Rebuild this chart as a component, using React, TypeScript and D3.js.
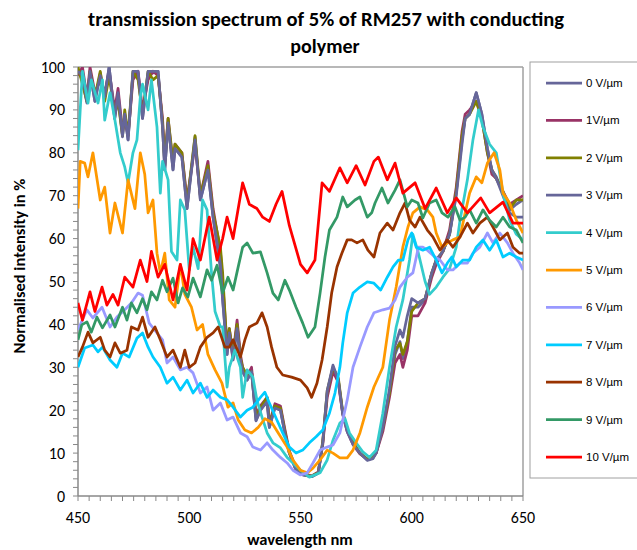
import React from "react";
import * as d3 from "d3";

const seriesNames = ["0 V/µm", "1V/µm", "2 V/µm", "3 V/µm", "4 V/µm", "5 V/µm", "6 V/µm", "7 V/µm", "8 V/µm", "9 V/µm", "10 V/µm"];
const seriesColors = ["#666699", "#993366", "#808000", "#666699", "#33CCCC", "#FF9900", "#9999FF", "#00CCFF", "#993300", "#339966", "#FF0000"];

const xTicks = [450, 500, 550, 600, 650];
const yTicks = [0, 10, 20, 30, 40, 50, 60, 70, 80, 90, 100];

// shared wavelengths for the 0-3 V/µm curves
const wlDark = [450,452,454,455.4,457.6,460,462,464,466.5,468,470,471,472.5,474.7,477,479,481.5,483.7,486,488,489,490.5,492.7,493.6,496.7,499,502.6,505,508.4,510.7,514,515,517,518,519.7,521.5,523,524,526,528,530,532,535,536,538.5,541,543,545,548,551,555,558,560,562,564.6,567,569,571,573.6,576.7,580,582.6,584,587,590,592.5,594.7,596,598,600,602.8,606,609,611,614,617,620,622.6,624,626,629,631.5,634,636,638,641,644,647,650];
const v0 = [99,97,91.6,98.6,92,98.6,93,100,88,93,83.7,89,83,98.6,98.6,88,98.6,98.6,99,86,76,87,76,81,79,67,83.7,69,76,65,53,45.7,33,38,31.7,40,31.7,29,27,29,17.7,20,22.4,16,20.7,20,14.7,10,6,5,4.5,5.4,12.4,24,30,27,19.3,15.4,12.4,10,8.4,8.9,10,16,24,33,36,32,36,44,44,45.7,52,55,57,61,70.6,83,88,89,94,89,81,76,74.4,70.6,66.7,68,69];
const v1 = [98,100,93,100,94,97,94,99,90,95,85,88,84,97,99,90,97,99,98,88,78,88,77,82,80,69,82,70,78,67,57,50,35,39,33,41,33,30,28,30,19,21,23,17,21.5,21,15.5,10.5,6.5,5.2,4.7,5.6,12,23,29,26.5,19,15,12,9.8,8.6,9.2,10,15,23,31,33,30,34,42,42,45,51,54,57,62,72,85,89,90,92,88,80,75,74,71,68,69,70];
const v2 = [100,96,92,99,93,99,92,98,89,92,84,90,84,99,97,89,99,97,98,87,77,88,78,82,80,68,84,70,77,66,58,52,34,39,33,40,32,30,28,29,18.5,20.5,23,16.5,21,20.5,15,10,6.2,5,4.6,5.5,12.8,24.5,30,27.5,19.5,15.5,12.6,10,8.6,9,10.3,16,24,34,35.6,33,36,43,45,46,52,55,57,61,71,84,88,89,92,88,80,76,74,71,67,69,69];
const v3 = [99,98,92,99,92,98,93,100,88,94,84,89,83,99,99,88,99,99,99,86,76,87,76,81,79,67,83,69,76,65,54,46,33,38,32,39,31.5,29,27,29,17.5,20,22,16,20.5,20,14.5,10,6,4.9,4.5,5.3,12.5,24.5,30.5,27,19,15,12,10,8.3,8.7,10,16,25,35,38.7,37,42,46,45,46,52,55,57,61,70,82,88,89,94,89,81,76,74,70,66,65,65];

const wl4 = [450,451,452,454.5,456,459,461,462,464.4,466.6,469,471,472.5,474.7,476.5,478,479,481.5,483,485.5,487,488,490.5,492,494.5,496,498,500,501.7,504,506,508,510,511.6,514,515,517,518,520.5,523,524,526,528.6,530.4,532.7,535,537.6,541,544,546.6,550,554,558.8,562,564.6,567.7,570,572,575,578,581,584,587,590,593,596,599,600.5,602.8,606,608,611,614,617,620,621.7,625,627.5,630,632,635,638,641,644,647,650];
const v4 = [80.6,90,99,91.6,97,91.6,97,87.6,94,87.6,80,76.7,73,80,83,93,96,90,97,86,70.6,78,73.7,57,55,69,66.7,52.7,58,53,69,66.7,52,43,39.4,39.4,25.4,30,34,30,23,29.4,27.7,22.4,18.4,14.7,12.4,11.2,9,7.7,6,4.4,5.4,8.4,13,17,18,14.7,12.4,10.3,9,10.7,19.3,30,39.4,45.7,55,61,57,50,47,48.7,51,53,58,64.3,73.7,83,90,86,82,80,70.6,64.3,61,59.7];

const wl5 = [450,451,453,454.5,456.7,460,462,464.4,466.6,470,472.5,475.6,478,480,481.5,483.7,485.5,487,489,491,493.6,496,498,501,503.5,506,508.4,511.6,514.7,517.4,519.7,522,525,528,531,534,537,540,544,546.6,550,553,555.6,558.8,562,564.6,567.7,571,573.6,576.7,580,583,587,590,593,596,598.3,600.5,603.7,607,609.5,611,613.6,616,618.5,621.7,624,626,629,631.5,634,637,639.6,641,644,647,650];
const v5 = [67,78,77.6,74.4,80,69,72,61.3,68.3,61.3,73.7,67,80,75,66,69,56.6,52,56.6,45.7,44,54,47,44,38.7,40,33,29.4,26.3,20.7,21.7,17.7,15.4,14.7,16,18,17.2,14.7,11.4,8.4,6,5.4,6.5,8.4,10.7,10,8.9,8.9,10.7,14.7,20.7,25.4,30,41,48.7,58,62.7,66,67.4,66.7,65,61.3,58,59,59.7,60.4,66,70.6,74.4,73,77.6,80,76,70.6,68.3,64.3,61.3];

const wl6 = [450,454,456.7,460.8,464.4,467.5,471,474,477,479,482,485.5,488,490,492.7,496,499,501.7,505,508,510.7,514,517,519.7,523,526,528.6,532,535,537.6,541,544,546.6,550,553,555.6,558.8,562,564.6,567.7,571,573.6,576.7,580,583,587,590,592.5,594.7,598,600.5,603,605,607,610.4,612.7,616,618.5,621.7,625,627.5,630.6,634,636.5,639.6,643,645.5,648.5,650];
const v6 = [38.7,43.4,41.5,44,39.4,41.7,43.4,45,47.3,46.8,40.3,38,36.4,31,32.4,29.4,30,28.7,24,25.4,20,21.7,17.7,18.4,14.7,13.8,11.4,10.7,12.4,10.7,9,7.7,6,4.9,5.4,7.7,10.7,11.4,11.9,14.7,22.4,30,34.7,39.4,42.7,43.4,43.8,45.7,48.7,51,52,58,58,57.3,55.7,55,52.7,52.7,54.3,54.3,56.6,58,61.3,59,61.3,59,56.6,54.3,52.7];

const wl7 = [450,453,456.7,459,461,464.4,467.5,470,473,476.5,479,481.5,483.7,487,490,492.7,496,499,501.7,505,508,510.7,514,517,519.7,523,526,528.6,532,534,536,539.4,542,545,548,551,554,557,560,563,565.5,567.7,569,571,573.6,576.7,580,583,586,589,591.6,594,596,598.3,600,602,605,608,611,613.6,616,618,620,623,626,629,632,635,638,641,644,647,650];
const v7 = [30,34.5,35.2,33.6,34.7,31.7,30,33.3,32.4,36.8,38,34.7,32.4,30,26.3,27.7,24.7,27,24,26.3,23,24.7,23,22.4,20.7,18.4,20,20.7,23,24.2,21.7,17.7,14.7,11.4,10,10.7,12.4,13.8,15.4,19.3,24,30,35.7,42.7,47.3,48.7,49.9,49.6,48,51,53.4,55,55,59.7,61.3,58,57.3,58,55,52,54.3,55.7,53.4,55,55,58,59.7,57.3,59.7,55.7,56.6,55.7,55];

const wl8 = [450,452,454.5,456.7,460,462,464.4,466.6,469,472,474,477,479,481.5,484.6,487,490,492.7,496,498,500,502.6,505,508,510.7,513,516,518,519.7,523,525,527,530.4,532.7,535,537,539.4,542,546,550,553,555,557.4,559.7,562,564,566.4,568.6,571,573,575.4,578,580.3,583,585.7,589,591.6,594.7,597,599,601.5,603.7,607,609.5,612.7,616,618.5,621.7,625,627.5,630.6,634,636.5,639.6,643,645.5,648.5,650];
const v8 = [32.4,34.7,38.2,35.7,37,34,32.4,35.7,33.3,34,39.4,38.7,41.7,37,39.4,36.4,32.4,34,30,34,30,31,34.7,37,38,39.4,34.7,34.7,36.4,32.4,36.4,39.4,40.3,42.7,39.4,34.7,30,28.2,27.7,27,25.2,23,26.3,31.7,39.4,47.3,53.4,56.6,59.7,59.7,59,59.7,57.3,55.7,61.3,63.6,62,66,68.3,64.3,62.7,65,62,60.4,57.3,59.7,58,60.4,63.6,61.3,63.6,65,62.7,59.7,61.3,58,56.6,56.6];

const wl9 = [450,451.7,454,456,458.5,461,464.4,466.6,470,472,474,476.5,479,481,483,485.5,488,490,492.7,495,497,499.4,501.7,505,508,510,512.5,515,517.4,519.7,522,524,526,528.6,532,535,537.6,540,543,545,548,551,553.4,556.5,558.8,561,563,566.4,569,571,574.5,576.7,580,582,583.5,586.6,589.3,592.5,594.7,598,600,602.8,605,608,611,613.6,616.3,619.4,621.7,624,626,629,632,635,638,641,644,647,650];
const v9 = [36.4,39.9,40.6,38.2,41.7,39.2,42.2,39.4,44,41,45,42.7,46,43.4,47.6,45.7,50.3,47.6,50.8,45,48.5,46.4,50.8,46.4,52.7,50.3,53.8,47.3,51,48,53.4,58,59,56.6,56.9,52,47.3,45.7,50.3,48,44,40.3,37,39.4,47.3,55.7,62,65,69.7,67.4,69,69.7,65,66,68.3,71.8,68.3,71.3,73.7,67.4,69,68.3,64.8,68.3,69,66,65,67.4,64.3,65,66.7,63.6,66.7,64.3,62.7,65,62.7,62,59];

const wl10 = [450,452,455.4,457.6,460.8,463,465.7,468,471,474.7,478,481,483,486,489,492.7,496,499,501.7,505,509,512.5,515,517,519.7,524,527,530.4,533,536,539,541.7,545,550,553,556.5,559.7,563,567.7,571,575,579,583,585,589,592.5,596,601.5,606,611,616,620,625,631,635,641,645.5,650];
const v10 = [45,41,47.6,43,48.7,44.5,47,44.5,51,48.7,55,50,57,51,54,45.7,54,48,60,55,65,55,60,65,60,73,68,67,65,64,68,71,63,54,52,55,73,71,76.5,73,77,72.5,78,79,73.7,77.6,70.6,73,67,71.8,66,69.5,66,69.5,66,68.5,63.6,63.6];

const seriesX = [wlDark, wlDark, wlDark, wlDark, wl4, wl5, wl6, wl7, wl8, wl9, wl10];
const seriesY = [v0, v1, v2, v3, v4, v5, v6, v7, v8, v9, v10];

const W = 637, H = 550;
const left = 78, right = 523, top = 67, bottom = 496;

export default function App() {
  const x = d3.scaleLinear().domain([450, 650]).range([left, right]);
  const y = d3.scaleLinear().domain([0, 100]).range([bottom, top]);
  const line = d3.line<[number, number]>().x(d => x(d[0])).y(d => y(d[1])).curve(d3.curveLinear);
  const xMinor = d3.range(450, 651, 5);
  const yMinor = d3.range(0, 101, 2);
  const tickFont = "Carlito, Lato, 'Liberation Sans', sans-serif";
  return (
    <svg width={W} height={H} style={{ position: "absolute", left: 0, top: 0, background: "#fff" }}>
      <defs>
        <clipPath id="plotclip">
          <rect x={left} y={top} width={right - left} height={bottom - top} />
        </clipPath>
      </defs>
      <rect x={0} y={0} width={W} height={H} fill="#fff" />
      <text x={326} y={26} textAnchor="middle" fontFamily={tickFont} fontWeight="bold" fontSize={20} textLength={476} lengthAdjust="spacingAndGlyphs">transmission spectrum of 5% of RM257 with conducting</text>
      <text x={325} y={53} textAnchor="middle" fontFamily={tickFont} fontWeight="bold" fontSize={20}>polymer</text>
      {/* plot border */}
      <line x1={left} x2={right} y1={top} y2={top} stroke="#a0a0a0" strokeWidth={1.5} />
      <line x1={right} x2={right} y1={top} y2={bottom} stroke="#a0a0a0" strokeWidth={1.5} />
      {/* axes */}
      <line x1={left} x2={left} y1={top} y2={bottom} stroke="#888" strokeWidth={1.5} />
      <line x1={left} x2={right} y1={bottom} y2={bottom} stroke="#888" strokeWidth={1.5} />
      {yMinor.map(v => (
        <line key={"ym" + v} x1={left - 5} x2={left} y1={y(v)} y2={y(v)} stroke="#888" strokeWidth={1} />
      ))}
      {xMinor.map(v => (
        <line key={"xm" + v} x1={x(v)} x2={x(v)} y1={bottom} y2={bottom + 5} stroke="#888" strokeWidth={1} />
      ))}
      {yTicks.map(v => (
        <text key={"yt" + v} x={65} y={y(v) + 5.5} textAnchor="end" fontFamily={tickFont} fontSize={16} fill="#000">{v}</text>
      ))}
      {xTicks.map(v => (
        <text key={"xt" + v} x={x(v)} y={523} textAnchor="middle" fontFamily={tickFont} fontSize={16} fill="#000">{v}</text>
      ))}
      <text x={300} y={545} textAnchor="middle" fontFamily={tickFont} fontWeight="bold" fontSize={16.5}>wavelength nm</text>
      <text transform="translate(25,266) rotate(-90)" textAnchor="middle" fontFamily={tickFont} fontWeight="bold" fontSize={16.5}>Normalised intensity in %</text>
      <g clipPath="url(#plotclip)">
        {seriesY.map((vals, i) => {
          const pts: [number, number][] = vals.map((v, j) => [seriesX[i][j], v]);
          return <path key={"s" + i} d={line(pts) || ""} fill="none" stroke={seriesColors[i]} strokeWidth={2.75} strokeLinejoin="round" />;
        })}
      </g>
      {/* legend */}
      <rect x={530} y={62} width={120} height={416} fill="#fff" stroke="#a0a0a0" strokeWidth={1} />
      {seriesNames.map((n, i) => {
        const ly = 83 + i * 37.4;
        return (
          <g key={"lg" + i}>
            <line x1={546} x2={582} y1={ly} y2={ly} stroke={seriesColors[i]} strokeWidth={2.75} />
            <text x={586} y={ly + 4} fontFamily="'Liberation Sans', Arial, sans-serif" fontSize={11.5} fill="#000">{n}</text>
          </g>
        );
      })}
    </svg>
  );
}
